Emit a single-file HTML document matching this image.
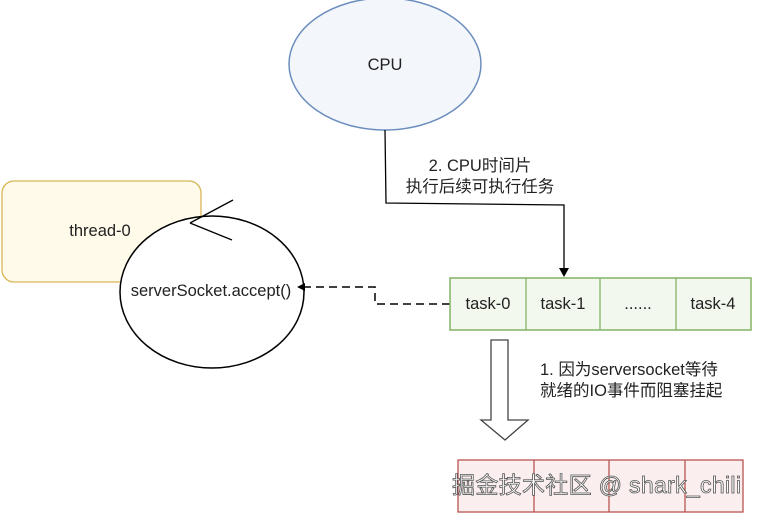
<!DOCTYPE html>
<html><head><meta charset="utf-8"><style>
body{margin:0;background:#fff;width:759px;height:513px;overflow:hidden}
svg{display:block}
text{font-family:"Liberation Sans","Noto Sans CJK SC",sans-serif;font-size:16.5px;fill:#222}
</style></head><body>
<svg width="759" height="513" viewBox="0 0 759 513">
<!-- CPU -->
<ellipse cx="385" cy="64" rx="96" ry="66" fill="#f3f6fb" stroke="#6c8ebf" stroke-width="1.5"/>
<text x="385" y="70" text-anchor="middle">CPU</text>
<!-- connector -->
<path d="M385,130 L386,203 L564,205 L564,270" fill="none" stroke="#000" stroke-width="1.3"/>
<path d="M559,268 L564,277 L569,268 Z" fill="#000"/>
<text x="480" y="171" text-anchor="middle">2. CPU时间片</text>
<text x="480" y="192" text-anchor="middle">执行后续可执行任务</text>
<!-- thread -->
<rect x="2" y="181" width="199" height="101" rx="12" fill="#fffaea" stroke="#d6b656" stroke-width="1.3"/>
<text x="100" y="236" text-anchor="middle">thread-0</text>
<ellipse cx="212" cy="292" rx="92" ry="76" fill="#fff" stroke="#000" stroke-width="1.5"/>
<path d="M190,223 L233,200 M190,223 L232,240" stroke="#000" stroke-width="1.3"/>
<text x="211" y="296" text-anchor="middle">serverSocket.accept()</text>
<!-- dashed -->
<path d="M450,304 L375,304 L375,287 L300,287" fill="none" stroke="#000" stroke-width="1.5" stroke-dasharray="8,5"/>
<path d="M305,283 L297,287 L305,291 Z" fill="#000"/>
<!-- tasks -->
<rect x="450" y="278" width="301" height="52" fill="#f2f8ee" stroke="#82b366" stroke-width="1.5"/>
<path d="M526,278V330M600,278V330M676,278V330" stroke="#82b366" stroke-width="1.3"/>
<text x="488" y="309" text-anchor="middle">task-0</text>
<text x="563" y="309" text-anchor="middle">task-1</text>
<text x="638" y="309" text-anchor="middle">......</text>
<text x="713" y="309" text-anchor="middle">task-4</text>
<!-- big arrow -->
<path d="M491,340 L508,340 L508,420 L528,420 L505,440 L481,420 L491,420 Z" fill="#fff" stroke="#444" stroke-width="1.3"/>
<text x="540" y="375">1. 因为serversocket等待</text>
<text x="540" y="396">就绪的IO事件而阻塞挂起</text>
<!-- red -->
<rect x="458" y="460" width="285" height="52" fill="#fbeeee" stroke="#b85450" stroke-width="1.3"/>
<path d="M534,460V512M609,460V512M685,460V512" stroke="#b85450" stroke-width="1.3"/>
<text x="452" y="493" textLength="289" style="font-size:23px;fill:#fff;stroke:#555;stroke-width:0.8">掘金技术社区 @ shark_chili</text>
</svg>
</body></html>
